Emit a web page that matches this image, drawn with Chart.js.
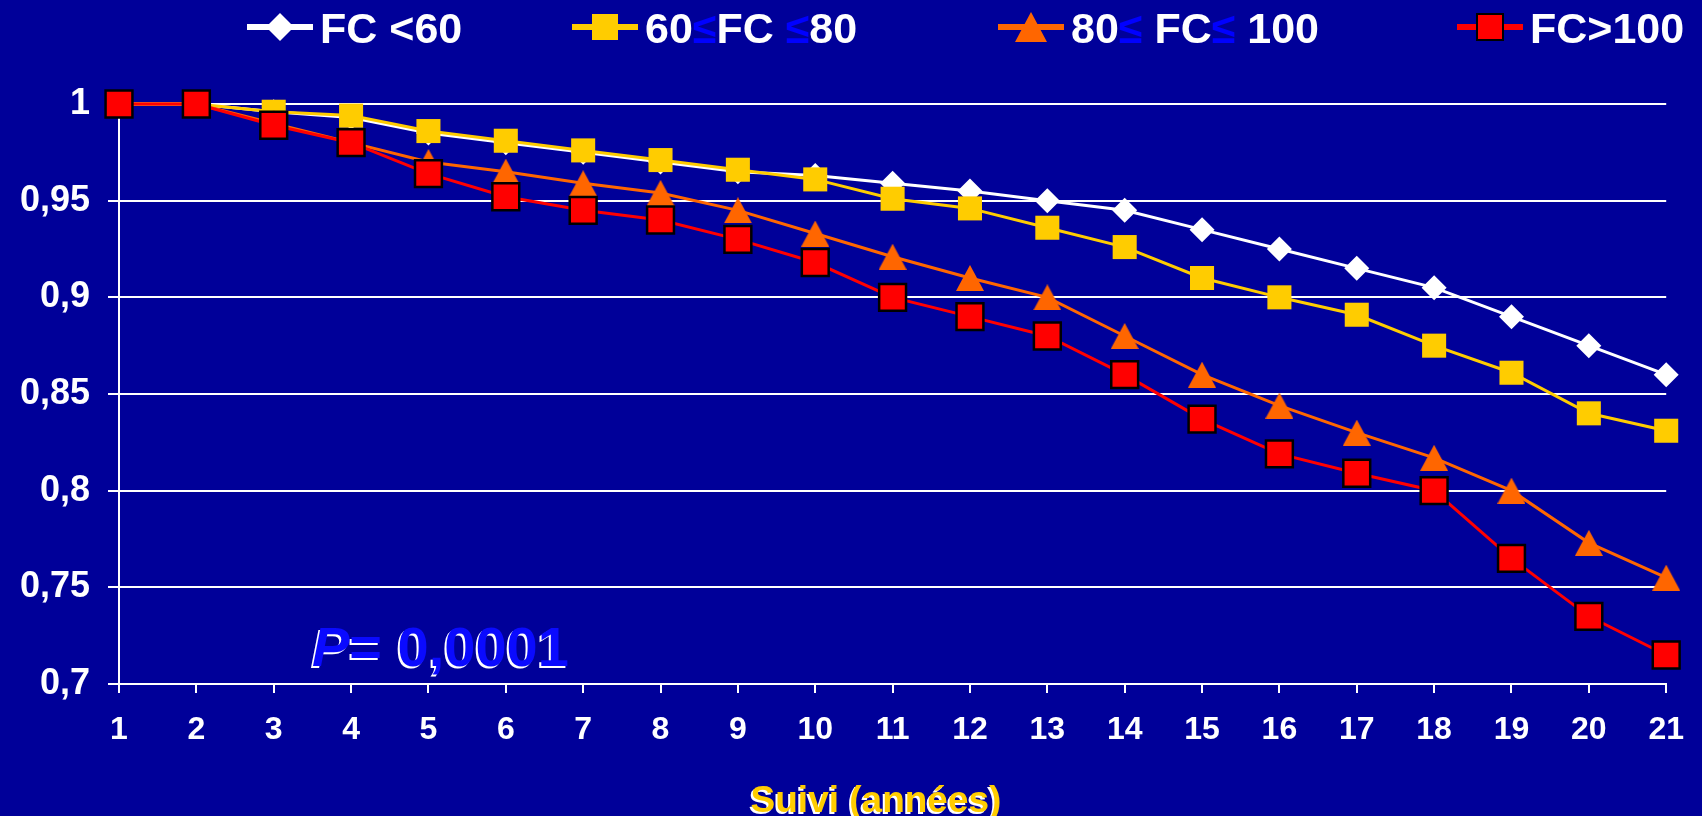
<!DOCTYPE html>
<html>
<head>
<meta charset="utf-8">
<script src="https://cdn.jsdelivr.net/npm/chart.js@4.4.1/dist/chart.umd.min.js"></script>
<style>
  html, body { margin: 0; padding: 0; background: #000099; }
  canvas { display: block; }
</style>
</head>
<body>
<canvas id="chart" width="1702" height="816"></canvas>
<script>
// Suivi en années
const years = ['1', '2', '3', '4', '5', '6', '7', '8', '9', '10', '11',
  '12', '13', '14', '15', '16', '17', '18', '19', '20', '21'];

const fcUnder60 = [1, 1, 0.996, 0.993, 0.985, 0.980, 0.975, 0.970, 0.965, 0.963, 0.959,
  0.955, 0.950, 0.945, 0.935, 0.925, 0.915, 0.905, 0.890, 0.875, 0.860];
const fc60to80 = [1, 1, 0.996, 0.994, 0.986, 0.981, 0.976, 0.971, 0.966, 0.961, 0.951,
  0.946, 0.936, 0.926, 0.910, 0.900, 0.891, 0.875, 0.861, 0.840, 0.831];
const fc80to100 = [1, 1, 0.990, 0.980, 0.970, 0.965, 0.959, 0.954, 0.945, 0.933, 0.921,
  0.910, 0.900, 0.880, 0.860, 0.844, 0.830, 0.817, 0.800, 0.773, 0.755];
const fcOver100 = [1, 1, 0.989, 0.980, 0.964, 0.952, 0.945, 0.940, 0.930, 0.918, 0.900,
  0.890, 0.880, 0.860, 0.837, 0.819, 0.809, 0.800, 0.765, 0.735, 0.715];

const seriesLabels = ['FC <60', '60≤FC ≤80', '80≤ FC≤ 100', 'FC>100'];
const pLetter = 'P';
const pValue = '= 0,0001';
const xTitle = 'Suivi (années)';

const FONT = '"Liberation Sans", Arial, sans-serif';
const BG = '#000099';

// triangle centré sur le point (comme dans Excel)
function makeTriangle(w, h, color) {
  const c = document.createElement('canvas');
  c.width = w;
  c.height = h;
  const g = c.getContext('2d');
  g.fillStyle = color;
  g.beginPath();
  g.moveTo(w / 2, 0);
  g.lineTo(w, h);
  g.lineTo(0, h);
  g.closePath();
  g.fill();
  return c;
}
const orangeTriangle = makeTriangle(28, 26, '#FF6600');
const legendTriangle = makeTriangle(32, 30, '#FF6600');

function drawMarker(ctx, style, x, y, r) {
  ctx.beginPath();
  if (style === 'rectRot') {
    ctx.moveTo(x - r, y);
    ctx.lineTo(x, y - r);
    ctx.lineTo(x + r, y);
    ctx.lineTo(x, y + r);
  } else {
    ctx.rect(x - r, y - r, 2 * r, 2 * r);
  }
  ctx.closePath();
}

const background = {
  id: 'background',
  beforeDraw(chart) {
    const ctx = chart.ctx;
    ctx.save();
    ctx.fillStyle = BG;
    ctx.fillRect(0, 0, chart.width, chart.height);
    ctx.restore();
  }
};

// legende en haut, avec les signes ≤ en bleu
const slideLegend = {
  id: 'slideLegend',
  afterDraw(chart) {
    const ctx = chart.ctx;
    const starts = [247, 572, 998, 1457];
    const markerSize = { rectRot: 14, rect: 13 };
    const yLine = 27;
    ctx.save();
    chart.data.datasets.forEach((ds, i) => {
      const x0 = starts[i];
      ctx.strokeStyle = ds.borderColor;
      ctx.lineWidth = 6;
      ctx.beginPath();
      ctx.moveTo(x0, yLine);
      ctx.lineTo(x0 + 66, yLine);
      ctx.stroke();

      if (typeof ds.pointStyle !== 'string') {
        ctx.drawImage(legendTriangle, x0 + 33 - legendTriangle.width / 2, yLine - legendTriangle.height / 2);
      } else {
        drawMarker(ctx, ds.pointStyle, x0 + 33, yLine, markerSize[ds.pointStyle]);
        ctx.fillStyle = ds.pointBackgroundColor;
        ctx.fill();
        if (ds.pointBorderWidth > 0) {
          ctx.lineWidth = 2;
          ctx.strokeStyle = ds.pointBorderColor;
          ctx.stroke();
        }
      }

      ctx.font = 'bold 43px ' + FONT;
      ctx.textBaseline = 'alphabetic';
      ctx.textAlign = 'left';
      let x = x0 + 73;
      ds.label.split(/(≤)/).forEach(part => {
        if (!part) return;
        ctx.fillStyle = part === '≤' ? '#0000FF' : '#FFFFFF';
        ctx.fillText(part, x, 43);
        x += ctx.measureText(part).width;
      });
    });
    ctx.restore();
  }
};

// texte P et titre de l'axe, avec ombre blanche
const annotations = {
  id: 'annotations',
  afterDraw(chart) {
    const ctx = chart.ctx;
    ctx.save();
    ctx.textBaseline = 'alphabetic';

    ctx.textAlign = 'left';
    ctx.font = 'italic bold 56px ' + FONT;
    const pw = ctx.measureText(pLetter).width;
    ctx.fillStyle = '#FFFFFF';
    ctx.fillText(pLetter, 310, 668);
    ctx.font = 'bold 56px ' + FONT;
    ctx.fillText(pValue, 310 + pw, 668);
    ctx.fillStyle = '#0A0AFF';
    ctx.font = 'italic bold 56px ' + FONT;
    ctx.fillText(pLetter, 312, 666);
    ctx.font = 'bold 56px ' + FONT;
    ctx.fillText(pValue, 312 + pw, 666);

    ctx.textAlign = 'center';
    ctx.font = 'bold 37px ' + FONT;
    ctx.fillStyle = '#FFFFFF';
    ctx.fillText(xTitle, 874, 814);
    ctx.fillStyle = '#FFCC00';
    ctx.fillText(xTitle, 876, 812);
    ctx.restore();
  }
};

function series(label, data, color, style, radius, order, border) {
  return {
    label: label,
    data: data,
    borderColor: color,
    backgroundColor: color,
    borderWidth: 3,
    tension: 0,
    pointStyle: style,
    pointRadius: radius,
    pointHoverRadius: radius,
    pointBackgroundColor: color,
    pointBorderColor: border || color,
    pointBorderWidth: border ? 2.5 : 0,
    order: order,
    clip: false,
  };
}

new Chart(document.getElementById('chart'), {
  type: 'line',
  data: {
    labels: years,
    datasets: [
      series(seriesLabels[0], fcUnder60, '#FFFFFF', 'rectRot', 12.5, 4),
      series(seriesLabels[1], fc60to80, '#FFCC00', 'rect', 17, 3),
      series(seriesLabels[2], fc80to100, '#FF6600', orangeTriangle, 14, 2),
      series(seriesLabels[3], fcOver100, '#FF0000', 'rect', 19, 1, '#000000'),
    ],
  },
  options: {
    responsive: false,
    animation: false,
    devicePixelRatio: 1,
    events: [],
    layout: { padding: { left: 0, right: 29, top: 104, bottom: 0 } },
    plugins: {
      legend: { display: false },
      tooltip: { enabled: false },
    },
    scales: {
      x: {
        offset: false,
        afterFit: (scale) => { scale.height = 132; },
        grid: {
          drawOnChartArea: false,
          color: '#FFFFFF',
          lineWidth: 2,
          tickLength: 9,
        },
        border: { color: '#FFFFFF', width: 2 },
        ticks: {
          color: '#FFFFFF',
          padding: 18,
          maxRotation: 0,
          autoSkip: false,
          font: { size: 32, weight: 'bold', family: FONT },
        },
      },
      y: {
        min: 0.7,
        max: 1,
        afterFit: (scale) => { scale.width = 119; },
        grid: {
          color: '#FFFFFF',
          lineWidth: 2,
          tickLength: 11,
        },
        border: { color: '#FFFFFF', width: 2 },
        ticks: {
          stepSize: 0.05,
          color: '#FFFFFF',
          padding: 18,
          font: { size: 36, weight: 'bold', family: FONT },
          callback: (v) => String(Math.round(v * 100) / 100).replace('.', ','),
        },
      },
    },
  },
  plugins: [background, slideLegend, annotations],
});
</script>
</body>
</html>
